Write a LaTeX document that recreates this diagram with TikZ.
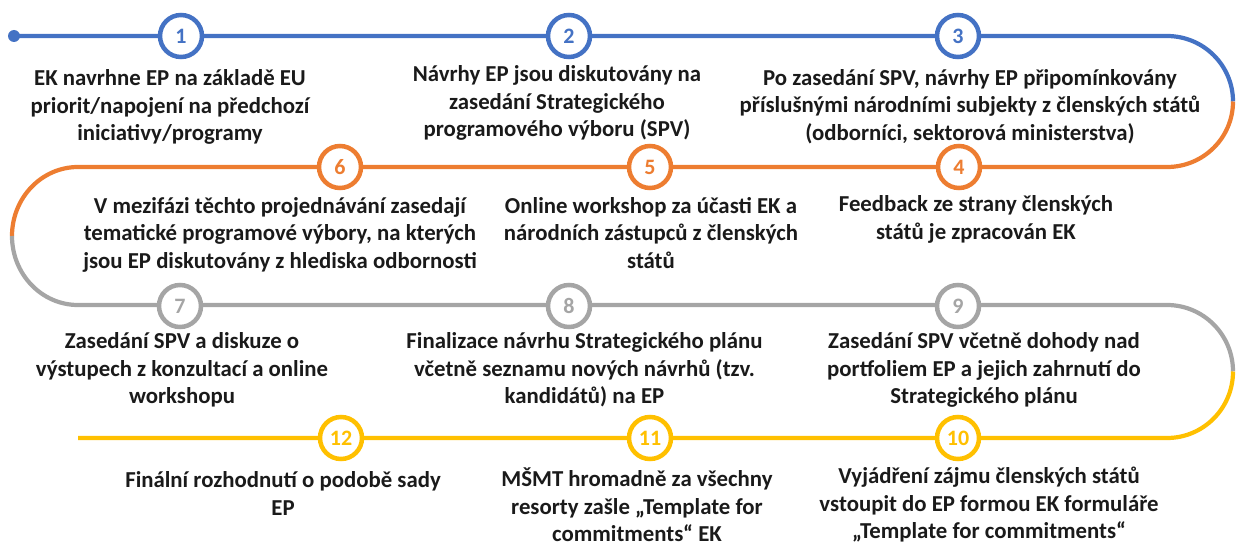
\documentclass[tikz,border=0pt]{standalone}
\usepackage{fontspec}
\setmainfont{Carlito}
\definecolor{cblue}{HTML}{4472C4}
\definecolor{corange}{HTML}{ED7D31}
\definecolor{cgray}{HTML}{A5A5A5}
\definecolor{cyellow}{HTML}{FFC000}
\definecolor{ctext}{HTML}{1A1A1A}
\tikzset{
  track/.style={line width=4.2pt, line cap=butt},
  stepcircle/.style={circle, draw=#1, text=#1, fill=white, line width=4.5pt,
    minimum size=42pt, inner sep=0pt, font=\bfseries\fontsize{22}{26}\selectfont},
  lbl/.style={align=center, inner sep=0pt, anchor=north, text=ctext,
    font=\bfseries\fontsize{22.8}{27.5}\selectfont}
}
\begin{document}
\begin{tikzpicture}[x=1pt,y=1pt]
\useasboundingbox (0,0) rectangle (1236,-551);
% track coordinates
\coordinate (s) at (14,-36);
\coordinate (r1a) at (1167,-36);
\coordinate (r1m) at (1233,-101.5);
\coordinate (l1a) at (78,-167);
\coordinate (l1m) at (12,-236);
\coordinate (r2a) at (1167,-305);
\coordinate (r2m) at (1233,-371.5);
\coordinate (e) at (78,-438);
% track
\draw[track, cblue] (s) -- (r1a) arc[start angle=90, end angle=0, x radius=66, y radius=65.5];
\fill[cblue] (s) circle (6);
\draw[track, corange] (r1m) arc[start angle=0, end angle=-90, x radius=66, y radius=65.5]
  -- (l1a) arc[start angle=90, end angle=180, x radius=66, y radius=69];
\draw[track, cgray] (l1m) arc[start angle=180, end angle=270, x radius=66, y radius=69]
  -- (r2a) arc[start angle=90, end angle=0, x radius=66, y radius=66.5];
\draw[track, cyellow] (r2m) arc[start angle=0, end angle=-90, x radius=66, y radius=66.5]
  -- (e);
% step circles
\node[stepcircle=cblue] (c1) at (181,-36) {1};
\node[stepcircle=cblue] (c2) at (569,-36) {2};
\node[stepcircle=cblue] (c3) at (958,-36) {3};
\node[stepcircle=corange] (c4) at (959,-167) {4};
\node[stepcircle=corange] (c5) at (650,-167) {5};
\node[stepcircle=corange] (c6) at (340,-167) {6};
\node[stepcircle=cgray] (c7) at (180,-306) {7};
\node[stepcircle=cgray] (c8) at (569,-306) {8};
\node[stepcircle=cgray] (c9) at (958,-306) {9};
\node[stepcircle=cyellow] (c10) at (958,-438) {10};
\node[stepcircle=cyellow] (c11) at (650,-438) {11};
\node[stepcircle=cyellow] (c12) at (341,-438) {12};
% labels
\node[lbl] (t1) at (170,-66.5) {\strut EK navrhne EP na základě EU\\priorit/napojení na předchozí\\iniciativy/programy};
\node[lbl] (t2) at (557,-62.5) {\strut Návrhy EP jsou diskutovány na\\zasedání Strategického\\programového výboru (SPV)};
\node[lbl] (t3) at (970,-66) {\strut Po zasedání SPV, návrhy EP připomínkovány\\příslušnými národními subjekty z členských států\\(odborníci, sektorová ministerstva)};
\node[lbl] (t6) at (280,-194) {\strut V mezifázi těchto projednávání zasedají\\tematické programové výbory, na kterých\\jsou EP diskutovány z hlediska odbornosti};
\node[lbl] (t5) at (651,-194) {\strut Online workshop za účasti EK a\\národních zástupců z členských\\států};
\node[lbl] (t4) at (976,-192.5) {\strut Feedback ze strany členských\\států je zpracován EK};
\node[lbl] (t7) at (182,-329.5) {\strut Zasedání SPV a diskuze o\\výstupech z konzultací a online\\workshopu};
\node[lbl] (t8) at (584.5,-329.5) {\strut Finalizace návrhu Strategického plánu\\včetně seznamu nových návrhů (tzv.\\kandidátů) na EP};
\node[lbl] (t9) at (984,-329.5) {\strut Zasedání SPV včetně dohody nad\\portfoliem EP a jejich zahrnutí do\\Strategického plánu};
\node[lbl] (t12) at (283,-468.5) {\strut Finální rozhodnutí o podobě sady\\EP};
\node[lbl] (t11) at (637,-467.5) {\strut MŠMT hromadně za všechny\\resorty zašle „Template for\\commitments“ EK};
\node[lbl] (t10) at (989,-464.5) {\strut Vyjádření zájmu členských států\\vstoupit do EP formou EK formuláře\\„Template for commitments“};
\end{tikzpicture}
\end{document}
